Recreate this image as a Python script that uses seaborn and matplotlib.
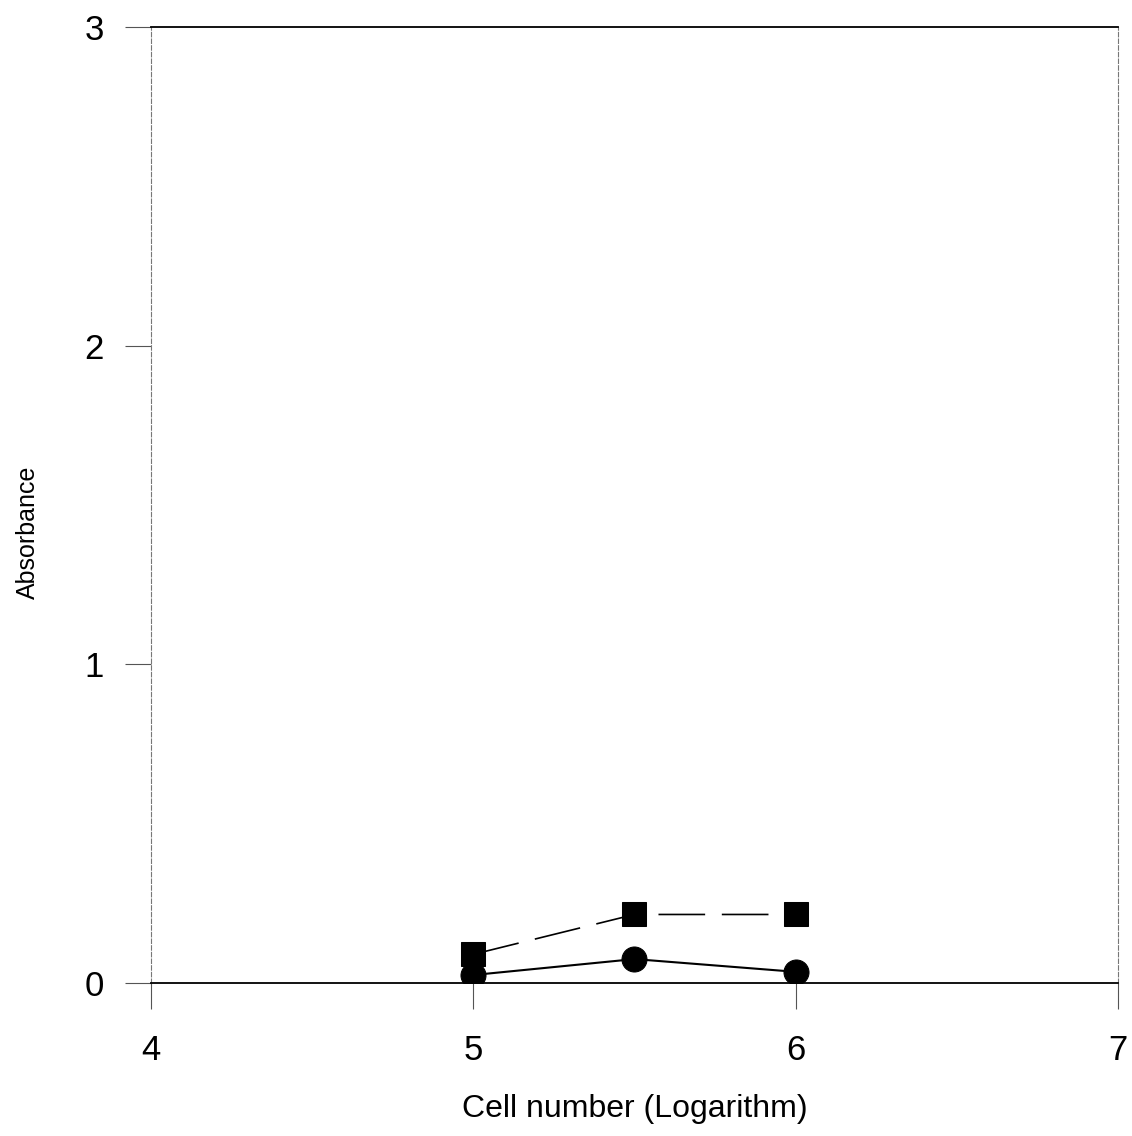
import numpy as np
import pandas as pd
import matplotlib
matplotlib.use("Agg")
import matplotlib.pyplot as plt
import seaborn as sns

# Data
cell_log = [5.0, 5.5, 6.0]
total_release = [0.09, 0.215, 0.215]        # squares, dashed line
spontaneous_release = [0.025, 0.075, 0.035] # circles, solid line
x_ticks = [4, 5, 6, 7]
y_ticks = [0, 1, 2, 3]

sns.set_style("ticks")
plt.rcParams['font.family'] = ['Liberation Sans', 'DejaVu Sans']
plt.rcParams['text.color'] = 'black'
plt.rcParams['axes.labelcolor'] = 'black'

df = pd.DataFrame({
    "x": cell_log * 2,
    "y": total_release + spontaneous_release,
    "series": ["total"] * 3 + ["spont"] * 3,
})

fig = plt.figure(figsize=(11.32, 11.36), dpi=100)
ax = fig.add_axes([0.1334, 0.1347, 0.8542, 0.8415])

sns.lineplot(data=df[df.series == "total"], x="x", y="y", ax=ax, color="black",
             marker="s", markersize=17, linewidth=1.2,
             linestyle=(0, (28, 10)), markeredgecolor="black")
sns.lineplot(data=df[df.series == "spont"], x="x", y="y", ax=ax, color="black",
             marker="o", markersize=18, linewidth=1.5, markeredgecolor="black")

ax.set_xlim(4, 7)
ax.set_ylim(0, 3)
ax.set_xticks(x_ticks)
ax.set_yticks(y_ticks)
ax.set_xticklabels([str(t) for t in x_ticks])
ax.set_yticklabels([str(t) for t in y_ticks])

ax.tick_params(axis='both', direction='out', length=19, width=0.8, color='#555555',
               labelsize=25, labelcolor='black')
ax.tick_params(axis='x', pad=18)
ax.tick_params(axis='y', pad=15)

for s in ['top', 'bottom']:
    ax.spines[s].set_color('black')
    ax.spines[s].set_linewidth(1.3)
for s in ['left', 'right']:
    ax.spines[s].set_color('#777777')
    ax.spines[s].set_linewidth(0.8)
    ax.spines[s].set_linestyle((0, (4, 2)))

ax.set_xlabel("Cell number (Logarithm)", fontsize=23, labelpad=19)
ax.set_ylabel("Absorbance", fontsize=18)
ax.yaxis.set_label_coords(-0.115, 0.471)

fig.savefig("out.png", dpi=100)
